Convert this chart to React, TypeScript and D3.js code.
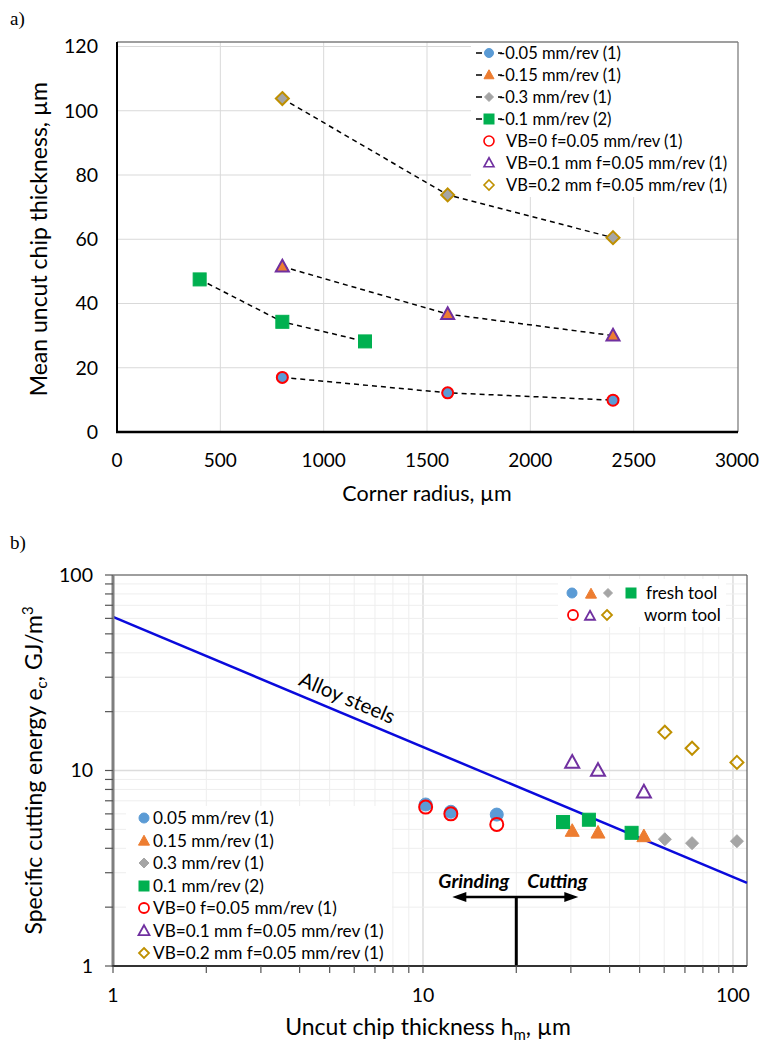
import React from "react";
import * as d3 from "d3";

// ---------- Chart a) data ----------
const radiusA = [800, 1600, 2400];
const radius01 = [400, 800, 1200];
const hF005 = [17.0, 12.2, 9.9];
const hF015 = [51.5, 36.7, 30.0];
const hF03 = [103.8, 73.8, 60.5];
const hF01 = [47.5, 34.3, 28.2];
const hVB0 = [17.0, 12.2, 9.9];
const hVB01 = [51.5, 36.7, 30.0];
const hVB02 = [103.8, 73.8, 60.5];
const xTicksA = [0, 500, 1000, 1500, 2000, 2500, 3000];
const yTicksA = [0, 20, 40, 60, 80, 100, 120];

// ---------- Chart b) data ----------
const hmF005 = [10.2, 12.3, 17.3];
const ecF005 = [6.7, 6.15, 5.95];
const hmVB0 = [10.2, 12.3, 17.3];
const ecVB0 = [6.5, 6.0, 5.3];
const hmF015 = [30.3, 36.7, 51.6];
const ecF015 = [4.9, 4.8, 4.6];
const hmF03 = [60.3, 73.8, 103];
const ecF03 = [4.45, 4.25, 4.35];
const hmF01 = [28.3, 34.3, 47.1];
const ecF01 = [5.45, 5.6, 4.8];
const hmVB01 = [30.3, 36.7, 51.6];
const ecVB01 = [11.0, 10.0, 7.75];
const hmVB02 = [60.3, 73.8, 103];
const ecVB02 = [15.7, 13.0, 11.0];
const alloyH = [1, 111];
const alloyEc = [61, 2.66];
const boundaryH = 20;
const xTicksB = [1, 10, 100];
const yTicksB = [1, 10, 100];

const legendA = [
  "-0.05 mm/rev (1)",
  "-0.15 mm/rev (1)",
  "-0.3 mm/rev (1)",
  "-0.1 mm/rev (2)",
  "VB=0 f=0.05 mm/rev (1)",
  "VB=0.1 mm f=0.05 mm/rev (1)",
  "VB=0.2 mm f=0.05 mm/rev (1)",
];
const legendB = [
  "0.05 mm/rev (1)",
  "0.15 mm/rev (1)",
  "0.3 mm/rev (1)",
  "0.1 mm/rev (2)",
  "VB=0 f=0.05 mm/rev (1)",
  "VB=0.1 mm f=0.05 mm/rev (1)",
  "VB=0.2 mm f=0.05 mm/rev (1)",
];

const C_BLUE = "#5b9bd5";
const C_ORANGE = "#ed7d31";
const C_GRAY = "#a5a5a5";
const C_GREEN = "#00b050";
const C_RED = "#ff0000";
const C_PURPLE = "#7030a0";
const C_GOLD = "#bf9000";
const FONT = "Lato, 'Open Sans', sans-serif";

type Shape = "circle" | "triangle" | "diamond" | "square";

function Marker({ shape, x, y, s, fill, stroke, sw = 1.5 }: { shape: Shape; x: number; y: number; s: number; fill: string; stroke: string; sw?: number }) {
  if (shape === "circle") return <circle cx={x} cy={y} r={s} fill={fill} stroke={stroke} strokeWidth={sw} />;
  if (shape === "square") return <rect x={x - s} y={y - s} width={2 * s} height={2 * s} fill={fill} stroke={stroke} strokeWidth={sw} />;
  let pts: [number, number][];
  if (shape === "diamond") pts = [[0, -s], [s, 0], [0, s], [-s, 0]];
  else pts = [[0, -s * 1.05], [s, s * 0.75], [-s, s * 0.75]];
  return <polygon points={pts.map((p) => `${x + p[0]},${y + p[1]}`).join(" ")} fill={fill} stroke={stroke} strokeWidth={sw} strokeLinejoin="miter" />;
}

function ChartA() {
  const x = d3.scaleLinear().domain([0, 3000]).range([117, 737]);
  const y = d3.scaleLinear().domain([0, 120]).range([432, 46.5]);
  const line = d3.line<[number, number]>().x((d) => x(d[0])).y((d) => y(d[1]));
  const zip = (a: number[], b: number[]) => a.map((v, i) => [v, b[i]] as [number, number]);
  const filled: { xs: number[]; ys: number[]; shape: Shape; fill: string; s: number }[] = [
    { xs: radiusA, ys: hF005, shape: "circle", fill: C_BLUE, s: 5.5 },
    { xs: radiusA, ys: hF015, shape: "triangle", fill: C_ORANGE, s: 6.5 },
    { xs: radiusA, ys: hF03, shape: "diamond", fill: C_GRAY, s: 6.5 },
    { xs: radius01, ys: hF01, shape: "square", fill: C_GREEN, s: 6.5 },
  ];
  const open: { xs: number[]; ys: number[]; shape: Shape; stroke: string; s: number }[] = [
    { xs: radiusA, ys: hVB0, shape: "circle", stroke: C_RED, s: 5.5 },
    { xs: radiusA, ys: hVB01, shape: "triangle", stroke: C_PURPLE, s: 6.5 },
    { xs: radiusA, ys: hVB02, shape: "diamond", stroke: C_GOLD, s: 6.5 },
  ];
  const legendShapes: { shape: Shape; fill: string; stroke: string; s: number; dash: boolean }[] = [
    { shape: "circle", fill: C_BLUE, stroke: C_BLUE, s: 4.5, dash: true },
    { shape: "triangle", fill: C_ORANGE, stroke: C_ORANGE, s: 5, dash: true },
    { shape: "diamond", fill: C_GRAY, stroke: C_GRAY, s: 4.5, dash: true },
    { shape: "square", fill: C_GREEN, stroke: C_GREEN, s: 5, dash: true },
    { shape: "circle", fill: "none", stroke: C_RED, s: 5, dash: false },
    { shape: "triangle", fill: "none", stroke: C_PURPLE, s: 5, dash: false },
    { shape: "diamond", fill: "none", stroke: C_GOLD, s: 5, dash: false },
  ];
  const legY = [53, 75, 97, 119, 141, 163, 185];
  const right = 738;
  return (
    <g fontFamily={FONT}>
      <text x={10} y={25} fontFamily="'Liberation Serif', serif" fontSize={19}>a)</text>
      {xTicksA.slice(1, -1).map((t) => (
        <line key={"gx" + t} x1={x(t)} x2={x(t)} y1={42} y2={432} stroke="#d9d9d9" strokeWidth={1} />
      ))}
      {yTicksA.slice(1).map((t) => (
        <line key={"gy" + t} x1={117} x2={right} y1={y(t)} y2={y(t)} stroke="#d9d9d9" strokeWidth={1} />
      ))}
      <rect x={471} y={42} width={right - 471} height={155} fill="#fff" />
      <line x1={117} x2={right} y1={42} y2={42} stroke="#7f7f7f" strokeWidth={1.3} />
      <line x1={right} x2={right} y1={42} y2={432} stroke="#7f7f7f" strokeWidth={1.3} />
      {filled.map((sr, i) => (
        <path key={"l" + i} d={line(zip(sr.xs, sr.ys)) || ""} fill="none" stroke="#000" strokeWidth={1.5} strokeDasharray="5,4" />
      ))}
      {filled.map((sr, i) =>
        sr.xs.map((v, j) => <Marker key={`f${i}-${j}`} shape={sr.shape} x={x(v)} y={y(sr.ys[j])} s={sr.s} fill={sr.fill} stroke={sr.fill} sw={1} />)
      )}
      {open.map((sr, i) =>
        sr.xs.map((v, j) => <Marker key={`o${i}-${j}`} shape={sr.shape} x={x(v)} y={y(sr.ys[j])} s={sr.s} fill="none" stroke={sr.stroke} sw={2} />)
      )}
      <line x1={117} x2={117} y1={42} y2={433} stroke="#000" strokeWidth={2} />
      <line x1={116} x2={right} y1={432} y2={432} stroke="#000" strokeWidth={2.5} />
      {yTicksA.map((t) => (
        <text key={"ty" + t} x={98} y={y(t)} dy="0.35em" textAnchor="end" fontSize={19.5}>{t}</text>
      ))}
      {xTicksA.map((t) => (
        <text key={"tx" + t} x={x(t)} y={460} dy="0.35em" textAnchor="middle" fontSize={19}>{t}</text>
      ))}
      <text x={427} y={493} dy="0.35em" textAnchor="middle" fontSize={21.5}>Corner radius, µm</text>
      <text transform={`translate(39,${(y(0) + y(120)) / 2}) rotate(-90)`} textAnchor="middle" dy="0.35em" fontSize={23}>Mean uncut chip thickness, µm</text>
      {legendA.map((lab, i) => {
        const ls = legendShapes[i];
        return (
          <g key={"lg" + i}>
            {ls.dash && <line x1={476} x2={502} y1={legY[i]} y2={legY[i]} stroke="#000" strokeWidth={1.5} strokeDasharray="6,16" />}
            <Marker shape={ls.shape} x={489} y={legY[i]} s={ls.s} fill={ls.fill} stroke={ls.stroke} sw={ls.dash ? 1 : 1.6} />
            <text x={ls.dash ? 499 : 506} y={legY[i]} dy="0.35em" fontSize={16.5}>{lab}</text>
          </g>
        );
      })}
    </g>
  );
}

function ChartB() {
  const x = d3.scaleLog().domain([1, 111]).range([113, 747]);
  const y = d3.scaleLog().domain([1, 100]).range([966, 575]);
  const minorX: number[] = [];
  [1, 10, 100].forEach((d) => [1, 2, 3, 4, 5, 6, 7, 8, 9].forEach((k) => { const v = d * k; if (v <= 111) minorX.push(v); }));
  const minorY: number[] = [];
  [1, 10].forEach((d) => [1, 2, 3, 4, 5, 6, 7, 8, 9].forEach((k) => minorY.push(d * k)));
  minorY.push(100);
  const alloyLine = d3.line<number>().x((d, i) => x(alloyH[i])).y((d) => y(d));
  const x0 = x(alloyH[0]), y0 = y(alloyEc[0]), x1 = x(alloyH[1]), y1 = y(alloyEc[1]);
  const ang = (Math.atan2(y1 - y0, x1 - x0) * 180) / Math.PI;
  const lx = 341;
  const ly = y0 + ((lx - x0) * (y1 - y0)) / (x1 - x0);
  const rad = (ang * Math.PI) / 180;
  const off = 16;
  const tx = lx + off * Math.sin(rad);
  const ty = ly - off * Math.cos(rad);

  const series: { xs: number[]; ys: number[]; shape: Shape; fill: string; stroke: string; s: number; open: boolean }[] = [
    { xs: hmF005, ys: ecF005, shape: "circle", fill: C_BLUE, stroke: C_BLUE, s: 6.5, open: false },
    { xs: hmF015, ys: ecF015, shape: "triangle", fill: C_ORANGE, stroke: C_ORANGE, s: 7, open: false },
    { xs: hmF03, ys: ecF03, shape: "diamond", fill: C_GRAY, stroke: C_GRAY, s: 6.5, open: false },
    { xs: hmF01, ys: ecF01, shape: "square", fill: C_GREEN, stroke: C_GREEN, s: 6.5, open: false },
    { xs: hmVB0, ys: ecVB0, shape: "circle", fill: "none", stroke: C_RED, s: 6.5, open: true },
    { xs: hmVB01, ys: ecVB01, shape: "triangle", fill: "none", stroke: C_PURPLE, s: 7, open: true },
    { xs: hmVB02, ys: ecVB02, shape: "diamond", fill: "none", stroke: C_GOLD, s: 6.5, open: true },
  ];
  const legShapes: { shape: Shape; fill: string; stroke: string; s: number }[] = [
    { shape: "circle", fill: C_BLUE, stroke: C_BLUE, s: 5 },
    { shape: "triangle", fill: C_ORANGE, stroke: C_ORANGE, s: 5.5 },
    { shape: "diamond", fill: C_GRAY, stroke: C_GRAY, s: 5 },
    { shape: "square", fill: C_GREEN, stroke: C_GREEN, s: 5 },
    { shape: "circle", fill: "none", stroke: C_RED, s: 5 },
    { shape: "triangle", fill: "none", stroke: C_PURPLE, s: 5.5 },
    { shape: "diamond", fill: "none", stroke: C_GOLD, s: 5 },
  ];
  const legY = [818, 841, 863, 886, 908, 931, 953];
  const bx = x(boundaryH);
  const arrowY = 897;
  return (
    <g fontFamily={FONT}>
      <text x={10} y={549} fontFamily="'Liberation Serif', serif" fontSize={19}>b)</text>
      {minorX.map((t) => (
        <line key={"mx" + t} x1={x(t)} x2={x(t)} y1={575} y2={966} stroke={[1, 10, 100].includes(t) ? "#dcdcdc" : "#eeeeee"} strokeWidth={[1, 10, 100].includes(t) ? 1.5 : 1} />
      ))}
      {minorY.map((t) => (
        <line key={"my" + t} x1={113} x2={747} y1={y(t)} y2={y(t)} stroke={[1, 10, 100].includes(t) ? "#dcdcdc" : "#eeeeee"} strokeWidth={[1, 10, 100].includes(t) ? 1.5 : 1} />
      ))}
      <rect x={126} y={806} width={266} height={158} fill="#fff" />
      <rect x={558} y={579} width={168} height={48} fill="#fff" />
      <line x1={113} x2={747} y1={575} y2={575} stroke="#595959" strokeWidth={1.2} />
      <line x1={747} x2={747} y1={575} y2={966} stroke="#595959" strokeWidth={1.2} />
      <path d={alloyLine(alloyEc) || ""} fill="none" stroke="#0a0adc" strokeWidth={2.5} />
      <text transform={`translate(${tx},${ty}) rotate(${ang})`} textAnchor="middle" dy="0.35em" fontSize={20.5}>Alloy steels</text>
      {series.map((sr, i) =>
        sr.xs.map((v, j) => (
          <Marker key={`p${i}-${j}`} shape={sr.shape} x={x(v)} y={y(sr.ys[j])} s={sr.s} fill={sr.fill} stroke={sr.stroke} sw={sr.open ? 2 : 1} />
        ))
      )}
      <line x1={bx} x2={bx} y1={arrowY} y2={966} stroke="#000" strokeWidth={3} />
      <line x1={bx - 52} x2={bx + 50} y1={arrowY} y2={arrowY} stroke="#000" strokeWidth={2.5} />
      <polygon points={`${bx - 64},${arrowY} ${bx - 50},${arrowY - 5} ${bx - 50},${arrowY + 5}`} fill="#000" />
      <polygon points={`${bx + 62},${arrowY} ${bx + 48},${arrowY - 5} ${bx + 48},${arrowY + 5}`} fill="#000" />
      <text x={bx - 7} y={881} dy="0.35em" textAnchor="end" fontSize={19.5} fontWeight="bold" fontStyle="italic">Grinding</text>
      <text x={bx + 11} y={881} dy="0.35em" textAnchor="start" fontSize={19.5} fontWeight="bold" fontStyle="italic">Cutting</text>
      <line x1={113} x2={113} y1={575} y2={967} stroke="#7f7f7f" strokeWidth={3} />
      <line x1={112} x2={747} y1={966} y2={966} stroke="#333" strokeWidth={2} />
      {minorY.map((t) => (
        <line key={"ty" + t} x1={105} x2={113} y1={y(t)} y2={y(t)} stroke="#555" strokeWidth={1.2} />
      ))}
      {minorX.map((t) => (
        <line key={"txk" + t} x1={x(t)} x2={x(t)} y1={966} y2={973} stroke="#555" strokeWidth={1.2} />
      ))}
      {yTicksB.map((t) => (
        <text key={"yl" + t} x={93} y={y(t)} dy="0.35em" textAnchor="end" fontSize={19.5}>{t}</text>
      ))}
      {xTicksB.map((t) => (
        <text key={"xl" + t} x={x(t)} y={995} dy="0.35em" textAnchor="middle" fontSize={19.5}>{t}</text>
      ))}
      <text x={428} y={1027} dy="0.35em" textAnchor="middle" fontSize={23}>
        Uncut chip thickness h<tspan fontSize={15} dy={5}>m</tspan><tspan dy={-5}>, µm</tspan>
      </text>
      <text transform={`translate(34,${(y(1) + y(100)) / 2}) rotate(-90)`} textAnchor="middle" dy="0.35em" fontSize={23}>
        Specific cutting energy e<tspan fontSize={15} dy={5}>c</tspan><tspan dy={-5}>, GJ/m</tspan><tspan fontSize={15} dy={-9}>3</tspan>
      </text>
      {legendB.map((lab, i) => (
        <g key={"lb" + i}>
          <Marker shape={legShapes[i].shape} x={144} y={legY[i]} s={legShapes[i].s} fill={legShapes[i].fill} stroke={legShapes[i].stroke} sw={i >= 4 ? 1.8 : 1} />
          <text x={153} y={legY[i]} dy="0.35em" fontSize={17.2}>{lab}</text>
        </g>
      ))}
      <Marker shape="circle" x={572} y={593} s={5} fill={C_BLUE} stroke={C_BLUE} sw={1} />
      <Marker shape="triangle" x={591} y={594} s={5.5} fill={C_ORANGE} stroke={C_ORANGE} sw={1} />
      <Marker shape="diamond" x={608} y={593} s={4.5} fill={C_GRAY} stroke={C_GRAY} sw={1} />
      <Marker shape="square" x={631} y={593} s={5} fill={C_GREEN} stroke={C_GREEN} sw={1} />
      <text x={646} y={593} dy="0.35em" fontSize={17}>fresh tool</text>
      <Marker shape="circle" x={573} y={615} s={5} fill="none" stroke={C_RED} sw={1.8} />
      <Marker shape="triangle" x={590} y={616} s={5} fill="none" stroke={C_PURPLE} sw={1.8} />
      <Marker shape="diamond" x={607} y={615} s={5} fill="none" stroke={C_GOLD} sw={1.8} />
      <text x={644} y={615} dy="0.35em" fontSize={17}>worm tool</text>
    </g>
  );
}

export default function App() {
  return (
    <svg width={760} height={1044} style={{ position: "absolute", left: 0, top: 0, background: "#fff" }}>
      <rect width={760} height={1044} fill="#fff" />
      <ChartA />
      <ChartB />
    </svg>
  );
}
